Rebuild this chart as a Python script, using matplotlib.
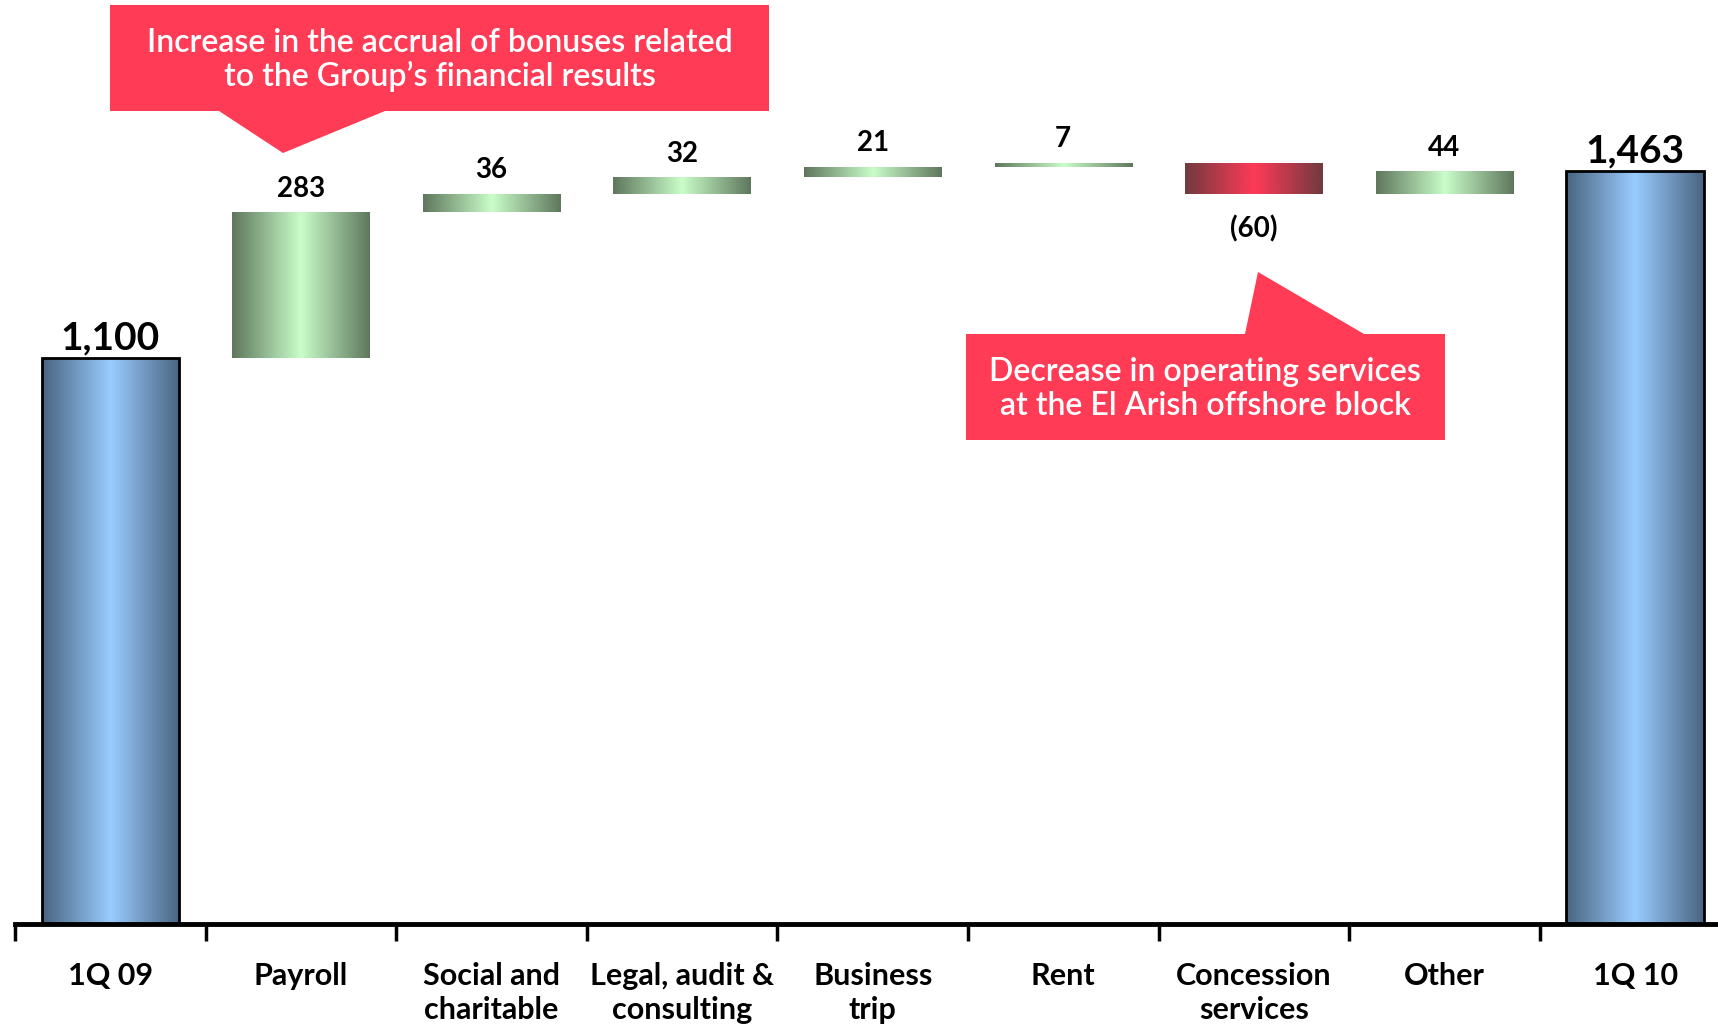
import numpy as np
import matplotlib.pyplot as plt
from matplotlib.colors import LinearSegmentedColormap
from matplotlib.patches import Polygon

categories = ['1Q 09', 'Payroll', 'Social and\ncharitable', 'Legal, audit &\nconsulting',
              'Business\ntrip', 'Rent', 'Concession\nservices', 'Other', '1Q 10']
changes = [283, 36, 32, 21, 7, -60, 44]
start_value = 1100
end_value = 1463
value_labels = ['1,100', '283', '36', '32', '21', '7', '(60)', '44', '1,463']

plt.rcParams['font.family'] = ['Lato', 'DejaVu Sans']

W, H = 1718, 1027
fig = plt.figure(figsize=(W / 100, H / 100), dpi=100)
ax = fig.add_axes([15 / W, 103 / H, 9 * 190.6 / W, 924 / H])

# bottoms and heights of the waterfall
bottoms = [0]
heights = [start_value]
level = start_value
for c in changes:
    if c >= 0:
        bottoms.append(level)
        heights.append(c)
    else:
        bottoms.append(level + c)
        heights.append(-c)
    level += c
bottoms.append(0)
heights.append(end_value)

x = np.arange(len(categories))
bar_w = 0.72

blue = LinearSegmentedColormap.from_list('b', ['#4a6480', '#99ccff', '#4a6480'])
green = LinearSegmentedColormap.from_list('g', ['#5f775d', '#c9fdc9', '#5f775d'])
red = LinearSegmentedColormap.from_list('r', ['#703a3e', '#ff3a58', '#703a3e'])

grad = np.linspace(0, 1, 256).reshape(1, -1)
bars = ax.bar(x, heights, bottom=bottoms, width=bar_w, color='none', zorder=2)
for i, b in enumerate(bars):
    if i in (0, len(categories) - 1):
        cmap = blue
        b.set_edgecolor('black')
        b.set_linewidth(2)
    elif changes[i - 1] < 0:
        cmap = red
    else:
        cmap = green
    x0, y0 = b.get_x(), b.get_y()
    im = ax.imshow(grad, cmap=cmap, aspect='auto', interpolation='bilinear',
                   extent=[x0, x0 + b.get_width(), y0, y0 + b.get_height()], zorder=1)
    im.set_clip_path(b)

ax.set_xlim(-0.5, 8.5)
ax.set_ylim(0, 1796)

# value labels
for i, b in enumerate(bars):
    top = b.get_y() + b.get_height()
    if i in (0, len(categories) - 1):
        ax.text(x[i], top + 40, value_labels[i], ha='center', va='center',
                fontsize=28, fontweight='bold', color='black')
    elif changes[i - 1] < 0:
        ax.text(x[i], b.get_y() - 68, value_labels[i], ha='center', va='center',
                fontsize=20, fontweight='bold', color='black')
    else:
        ax.text(x[i], top + 46, value_labels[i], ha='center', va='center',
                fontsize=20, fontweight='bold', color='black')

for s in ['top', 'right', 'left']:
    ax.spines[s].set_visible(False)
ax.spines['bottom'].set_linewidth(3.5)
ax.set_yticks([])
ax.set_xticks(np.arange(-0.5, 9, 1))
ax.set_xticklabels([])
ax.tick_params(axis='x', length=12, width=2.5, direction='out')
for i, lab in enumerate(categories):
    ax.text(x[i], -74, lab, ha='center', va='top', fontsize=22,
            fontweight='bold', color='black', linespacing=1.25)


def px(pts):
    return [(a / W, 1 - b / H) for a, b in pts]


callout_red = '#ff3b55'
fig.patches.append(Polygon(px([(110, 5), (769, 5), (769, 111), (385, 111), (283, 153),
                                (219, 111), (110, 111)]),
                           closed=True, transform=fig.transFigure,
                           facecolor=callout_red, edgecolor='none', zorder=3))
fig.text(440 / W, 1 - 60 / H, 'Increase in the accrual of bonuses related\nto the Group\u2019s financial results',
         ha='center', va='center', color='white', fontsize=23, fontweight='semibold',
         linespacing=1.15, zorder=4)

fig.patches.append(Polygon(px([(966, 334), (1245, 334), (1258, 272), (1364, 334), (1445, 334),
                                (1445, 440), (966, 440)]),
                           closed=True, transform=fig.transFigure,
                           facecolor=callout_red, edgecolor='none', zorder=3))
fig.text(1205 / W, 1 - 389 / H, 'Decrease in operating services\nat the El Arish offshore block',
         ha='center', va='center', color='white', fontsize=23, fontweight='semibold',
         linespacing=1.15, zorder=4)

fig.savefig('out.png', dpi=100)
